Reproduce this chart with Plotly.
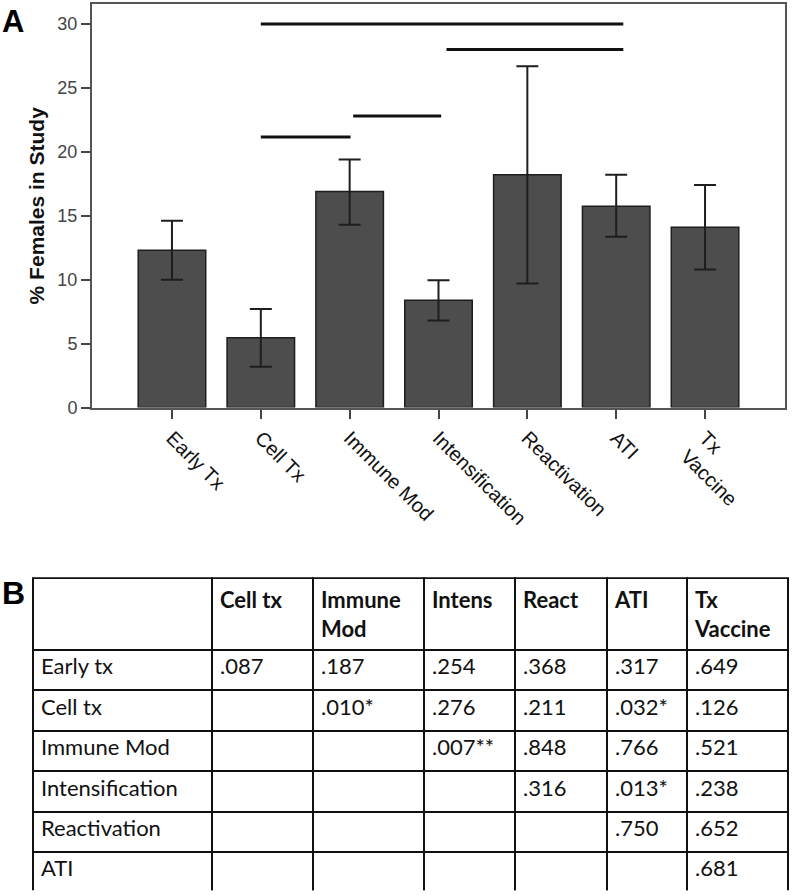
import plotly.graph_objects as go

# ---------------- Panel A data ----------------
categories = ["Early Tx", "Cell Tx", "Immune Mod", "Intensification",
              "Reactivation", "ATI", "Tx<br>Vaccine"]
pct_female = [12.3, 5.45, 16.9, 8.4, 18.2, 15.75, 14.1]
err_upper = [14.6, 7.7, 19.4, 9.95, 26.7, 18.2, 17.4]
err_lower = [10.0, 3.2, 14.3, 6.8, 9.7, 13.35, 10.8]
y_ticks = [0, 5, 10, 15, 20, 25, 30]
# significance bars: (start category index, end category index, height)
sig_x0 = [1.0, 3.09, 1.0, 2.04]
sig_x1 = [5.08, 5.08, 2.01, 3.03]
sig_y = [30.0, 28.0, 21.15, 22.8]

# ---------------- Panel B data ----------------
table_header = ["", "Cell tx", "Immune<br>Mod", "Intens", "React", "ATI", "Tx<br>Vaccine"]
row_labels = ["Early tx", "Cell tx", "Immune Mod", "Intensification", "Reactivation", "ATI"]
col_cell_tx = [".087", "", "", "", "", ""]
col_immune_mod = [".187", ".010*", "", "", "", ""]
col_intens = [".254", ".276", ".007**", "", "", ""]
col_react = [".368", ".211", ".848", ".316", "", ""]
col_ati = [".317", ".032*", ".766", ".013*", ".750", ""]
col_tx_vaccine = [".649", ".126", ".521", ".238", ".652", ".681"]
col_widths = [179, 101, 111, 91, 92, 80, 101]

W, H = 792, 895          # reference canvas (used for placement fractions)
FIG_H = 904              # rendered height
sy = FIG_H / H

err_plus = [u - v for u, v in zip(err_upper, pct_female)]
err_minus = [v - l for v, l in zip(pct_female, err_lower)]

fig = go.Figure()
fig.add_trace(go.Bar(
    x=categories, y=pct_female,
    width=0.76,
    marker=dict(color="#4d4d4d", line=dict(color="#1e1e1e", width=1.5)),
    error_y=dict(type="data", symmetric=False, array=err_plus, arrayminus=err_minus,
                 color="#1e1e1e", thickness=2, width=11),
    showlegend=False, hoverinfo="skip",
))

for x0, x1, yv in zip(sig_x0, sig_x1, sig_y):
    fig.add_shape(type="line", xref="x", yref="y", x0=x0, x1=x1, y0=yv, y1=yv,
                  line=dict(color="#111111", width=3))

# Table
fig.add_trace(go.Table(
    domain=dict(x=[33 / W, 788 / W], y=[1 - 892 / H, 1 - 579 / H]),
    columnwidth=col_widths,
    header=dict(values=[f"<b>{h}</b>" if h else "" for h in table_header],
                align="left", height=round(69 * sy),
                font=dict(family="Lato", size=22, color="#111111"),
                fill_color="white", line=dict(color="#111111", width=2)),
    cells=dict(values=[row_labels, col_cell_tx, col_immune_mod, col_intens,
                       col_react, col_ati, col_tx_vaccine],
               align="left", height=40 * sy,
               font=dict(family="Lato", size=22, color="#111111"),
               fill_color="white", line=dict(color="#111111", width=2)),
))

fig.add_annotation(text="<b>A</b>", xref="paper", yref="paper", x=0 / W, y=1 - 2 / H,
                   xanchor="left", yanchor="top", showarrow=False,
                   font=dict(family="Liberation Sans", size=31, color="black"))
fig.add_annotation(text="<b>B</b>", xref="paper", yref="paper", x=0 / W, y=1 - 574 / H,
                   xanchor="left", yanchor="top", showarrow=False,
                   font=dict(family="Liberation Sans", size=32, color="black"))

fig.update_layout(
    width=W, height=FIG_H,
    margin=dict(l=0, r=0, t=0, b=0),
    paper_bgcolor="white", plot_bgcolor="white",
    font=dict(family="Liberation Sans"),
    xaxis=dict(domain=[92 / W, 785 / W], range=[-0.9, 6.9], type="category",
               tickangle=45, ticks="outside", ticklen=9, tickwidth=1.5, tickcolor="#444",
               tickfont=dict(family="Liberation Sans", size=20, color="#111111"),
               showline=True, linecolor="#555555", linewidth=2, mirror=True,
               showgrid=False, zeroline=False, fixedrange=True),
    yaxis=dict(domain=[1 - 408 / H, 1 - 4 / H], range=[0, 31.56],
               tickvals=y_ticks, ticks="outside", ticklen=9, tickwidth=1.5, tickcolor="#444",
               tickfont=dict(family="Liberation Sans", size=18, color="#444444"),
               showline=True, linecolor="#555555", linewidth=2, mirror=True,
               showgrid=False, zeroline=False,
               title=dict(text="<b>% Females in Study</b>", standoff=7,
                          font=dict(family="Liberation Sans", size=21, color="#111111"))),
)

page_fix = (
    "var s=document.body.style;s.margin='0';s.padding='0';s.overflow='hidden';"
    "s.lineHeight='0';s.fontSize='0';"
    "document.documentElement.style.overflow='hidden';"
)
fig.write_html("out.html", config={"displayModeBar": False}, post_script=page_fix)
